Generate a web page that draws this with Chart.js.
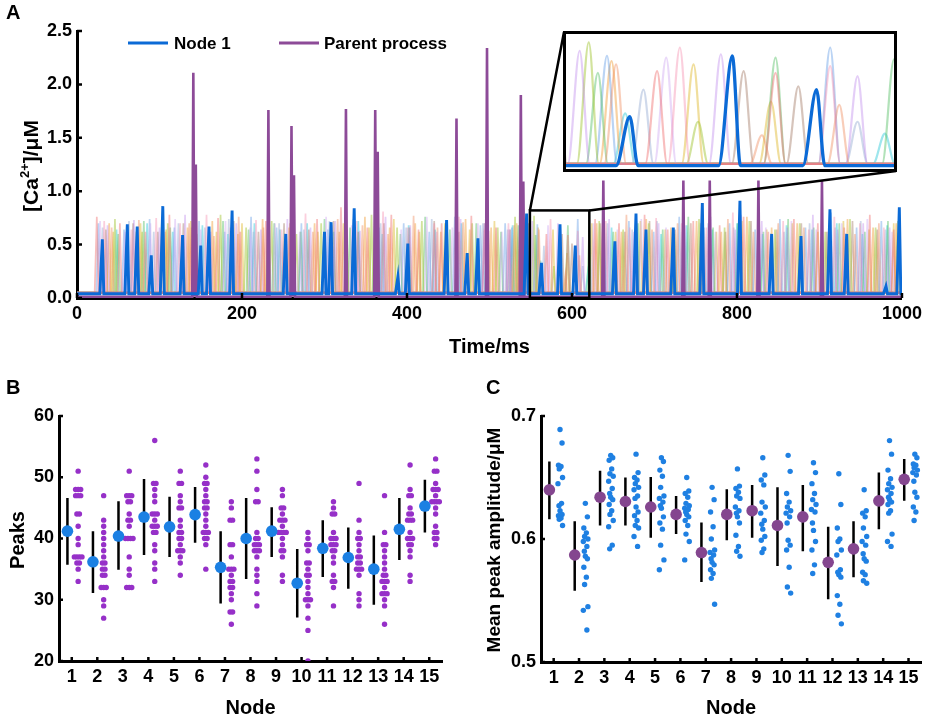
<!DOCTYPE html>
<html>
<head>
<meta charset="utf-8">
<script src="https://cdn.jsdelivr.net/npm/chart.js@4.4.1/dist/chart.umd.min.js"></script>
<style>
  body { margin: 0; background: #fff; width: 927px; height: 720px; position: relative; overflow: hidden; }
  canvas { position: absolute; }
  #cA { left: 0; top: 0; }
  #cB { left: 0; top: 360px; }
  #cC { left: 470px; top: 360px; }
  #insetBox { position: absolute; left: 563px; top: 31px; width: 334px; height: 141px; box-sizing: border-box;
              border: 3px solid #000; background: #fff; z-index: 2; }
  #insetBox canvas { left: 0; top: 0; }
</style>
</head>
<body>
<canvas id="cA" width="927" height="360"></canvas>
<div id="insetBox"><canvas id="cIn" width="328" height="135"></canvas></div>
<canvas id="cB" width="470" height="360"></canvas>
<canvas id="cC" width="457" height="360"></canvas>
<script>
// ---------- panel A : traces (peak time in ms, peak [Ca2+] in uM) ----------
const timeTicks = [0, 200, 400, 600, 800, 1000];
const caTicks = [0, 0.5, 1.0, 1.5, 2.0, 2.5];

const node1Peaks = [[30.7,0.55],[61,0.69],[73,0.67],[90,0.40],[104,0.86],[128,0.59],[150,0.49],[160,0.67],
  [188,0.82],[253,0.60],[300,0.62],[308,0.71],[336,0.84],[389,0.20],[401,0.51],[448,0.73],[473,0.42],
  [486,0.56],[545,0.79],[563,0.33],[585.5,0.69],[604,0.49],[652,0.53],[677.6,0.79],[689.7,0.64],
  [722.8,0.66],[758,0.89],[803.6,0.91],[842,0.60],[877.6,0.58],[912.7,0.83],[933,0.60],[980.6,0.11],[996.8,0.85]];

const parentPeaks = [[141,2.11],[144,1.25],[232,1.76],[260,1.61],[263,1.15],[326,1.77],[361.5,1.76],[364.5,1.37],
  [460,1.68],[497,2.34],[538,1.90],[541,1.09],[638,1.10],[735,1.10],[767,1.10],[826,1.10],[903,1.10]];

// other nodes (faint traces)
const pinkPeaks = [[24,0.76],[52,0.70],[83,0.62],[112,0.78],[139,0.66],[171,0.75],[198,0.62],[229,0.72],[262,0.68],
  [291,0.74],[320,0.85],[352,0.66],[381,0.78],[414,0.64],[442,0.70],[478,0.77],[508,0.66],[537,0.72],[569,0.60],
  [595,0.59],[628,0.74],[657,0.70],[688,0.78],[716,0.64],[747,0.72],[779,0.68],[808,0.76],[838,0.62],[869,0.74],
  [898,0.70],[930,0.66],[961,0.78],[990,0.64]];
const rosePeaks = [[33,0.72],[66,0.64],[96,0.75],[125,0.70],[157,0.78],[186,0.66],[217,0.73],[248,0.64],[277,0.79],
  [309,0.68],[339,0.72],[371,0.81],[401,0.66],[433,0.70],[463,0.76],[494,0.64],[523,0.70],[545,0.72],[574,0.74],
  [607,0.63],[641,0.72],[670,0.66],[702,0.75],[733,0.70],[763,0.66],[795,0.80],[826,0.68],[856,0.72],[887,0.64],
  [918,0.76],[949,0.70],[978,0.66]];
const coralPeaks = [[42,0.66],[75,0.73],[107,0.62],[136,0.70],[166,0.58],[196,0.76],[226,0.66],[258,0.70],[286,0.62],
  [316,0.74],[346,0.68],[377,0.60],[408,0.77],[437,0.66],[468,0.71],[499,0.63],[530,0.68],[560,0.64],[592,0.22],
  [609,0.40],[637,0.70],[666,0.78],[697,0.64],[728,0.70],[759,0.66],[789,0.74],[820,0.62],[850,0.70],[881,0.66],
  [912,0.73],[943,0.60],[972,0.70]];
const lavenderPeaks = [[37,0.68],[69,0.73],[100,0.66],[131,0.78],[162,0.62],[193,0.70],[223,0.64],[255,0.74],[283,0.66],
  [313,0.72],[343,0.63],[374,0.76],[404,0.68],[436,0.62],[465,0.74],[494,0.70],[524,0.64],[552,0.72],[583,0.70],
  [613,0.57],[645,0.74],[675,0.62],[705,0.70],[737,0.68],[768,0.76],[798,0.64],[830,0.72],[861,0.66],[892,0.78],
  [922,0.64],[953,0.70],[985,0.66]];
const lilacPeaks = [[28,0.72],[58,0.62],[89,0.70],[119,0.74],[150,0.64],[180,0.72],[210,0.66],[240,0.70],[270,0.62],
  [302,0.76],[333,0.68],[362,0.72],[393,0.64],[424,0.76],[455,0.66],[486,0.70],[515,0.62],[541,0.74],[571,0.68],
  [626,0.70],[655,0.64],[684,0.74],[714,0.66],[744,0.70],[774,0.62],[805,0.78],[835,0.66],[866,0.72],[896,0.64],
  [927,0.70],[958,0.74],[988,0.62]];
const olivePeaks = [[46,0.74],[79,0.62],[110,0.70],[142,0.64],[174,0.78],[205,0.66],[236,0.72],[266,0.60],[296,0.70],
  [327,0.64],[357,0.78],[388,0.66],[418,0.72],[448,0.62],[479,0.70],[510,0.66],[531,0.76],[554,0.77],[578,0.30],
  [633,0.72],[662,0.64],[693,0.70],[724,0.60],[754,0.74],[785,0.66],[815,0.72],[846,0.64],[876,0.70],[907,0.62],
  [937,0.74],[968,0.66],[995,0.72]];
const greenPeaks = [[50,0.60],[81,0.72],[113,0.66],[145,0.60],[177,0.72],[208,0.64],[239,0.70],[271,0.62],[300,0.74],
  [331,0.66],[361,0.70],[392,0.60],[422,0.76],[452,0.64],[484,0.70],[514,0.62],[535,0.68],[556,0.59],[595,0.68],
  [621,0.67],[650,0.62],[680,0.70],[710,0.64],[741,0.76],[771,0.66],[801,0.70],[832,0.62],[862,0.74],[893,0.66],
  [924,0.70],[955,0.62],[983,0.72]];
const skyPeaks = [[26,0.70],[57,0.64],[88,0.74],[118,0.66],[148,0.72],[179,0.62],[211,0.76],[242,0.66],[272,0.70],
  [304,0.64],[335,0.74],[366,0.66],[396,0.70],[427,0.62],[458,0.76],[489,0.68],[519,0.70],[527,0.66],[558,0.69],
  [607,0.74],[639,0.66],[669,0.72],[699,0.62],[730,0.76],[760,0.66],[791,0.70],[822,0.64],[852,0.74],[883,0.66],
  [914,0.80],[945,0.66],[975,0.72]];
const steelPeaks = [[31,0.66],[63,0.72],[93,0.62],[123,0.70],[155,0.66],[184,0.74],[214,0.62],[245,0.70],[275,0.64],
  [306,0.72],[337,0.62],[368,0.70],[399,0.66],[430,0.74],[461,0.62],[492,0.70],[522,0.64],[540,0.70],[566,0.49],
  [613,0.30],[643,0.70],[673,0.64],[703,0.72],[734,0.62],[765,0.70],[796,0.66],[826,0.74],[857,0.62],[888,0.70],
  [919,0.66],[950,0.72],[980,0.64]];
const orangePeaks = [[39,0.70],[72,0.62],[103,0.74],[134,0.66],[164,0.72],[195,0.60],[225,0.74],[257,0.66],[288,0.70],
  [318,0.62],[349,0.76],[379,0.66],[410,0.70],[441,0.62],[471,0.74],[502,0.66],[533,0.70],[559,0.66],[630,0.70],
  [660,0.62],[690,0.74],[720,0.66],[751,0.72],[781,0.62],[812,0.76],[842,0.66],[873,0.70],[903,0.62],[934,0.74],
  [965,0.66],[993,0.70]];
const yellowPeaks = [[44,0.62],[77,0.70],[108,0.64],[138,0.72],[169,0.62],[200,0.70],[231,0.64],[261,0.72],[292,0.62],
  [323,0.70],[354,0.66],[384,0.74],[415,0.62],[446,0.70],[476,0.64],[506,0.72],[537,0.62],[577,0.64],[594,0.42],
  [624,0.70],[653,0.62],[683,0.72],[713,0.64],[744,0.70],[775,0.62],[806,0.72],[836,0.64],[867,0.70],[898,0.62],
  [929,0.72],[960,0.64],[990,0.70]];
const tanPeaks = [[35,0.64],[68,0.70],[98,0.62],[129,0.70],[160,0.66],[190,0.72],[220,0.62],[251,0.70],[281,0.64],
  [311,0.72],[341,0.62],[372,0.70],[403,0.66],[433,0.72],[463,0.62],[494,0.70],[525,0.64],[547,0.70],[588,0.60],
  [600,0.51],[634,0.70],[664,0.62],[694,0.72],[725,0.64],[756,0.70],[786,0.62],[817,0.72],[848,0.64],[878,0.70],
  [909,0.62],[940,0.72],[970,0.64]];
const cyanPeaks = [[48,0.64],[85,0.70],[116,0.62],[152,0.68],[183,0.60],[215,0.70],[246,0.64],[279,0.70],[311,0.62],
  [341,0.72],[370,0.60],[402,0.68],[434,0.64],[466,0.70],[497,0.60],[528,0.68],[562,0.35],[619,0.23],[648,0.66],
  [678,0.72],[708,0.60],[739,0.68],[770,0.64],[800,0.70],[831,0.60],[860,0.68],[891,0.64],[921,0.70],[952,0.60],
  [982,0.68]];

// zoomed window shown in the inset: ms from/to and top value
const zoomFrom = 549, zoomTo = 621, zoomTop = 0.82;

// ---------- panel B : number of peaks per trial ----------
const nodes = [1,2,3,4,5,6,7,8,9,10,11,12,13,14,15];
const peakTicks = [20, 30, 40, 50, 60];
const peakMeans = [41.2,36.2,40.4,43.5,41.9,43.9,35.3,40.0,41.2,32.7,38.4,36.9,35.0,41.5,45.3];
const peakLow   = [35.7,31.1,34.9,37.3,37.0,39.3,29.4,33.4,37.0,27.1,33.7,31.8,29.2,36.5,41.0];
const peakHigh  = [46.6,41.2,46.1,49.7,46.8,48.4,41.2,46.6,45.1,38.3,43.0,41.8,40.5,46.6,49.6];
const peakCounts = [
  [51,48,48,48,47,47,47,44,44,42,40,39,37,37,37,37,36,36,35,33],
  [47,43,42,41,40,39,38,37,36,36,35,35,34,34,32,32,32,30,29,27],
  [51,47,47,47,46,46,44,43,43,42,40,40,40,40,37,35,34,32,32,32],
  [56,49,49,48,47,46,44,44,44,43,42,42,42,41,41,39,38,36,35,33],
  [51,49,49,47,46,45,45,43,42,41,41,40,40,39,38,38,38,37,36,34],
  [52,50,49,49,48,47,46,46,45,45,44,43,42,41,41,41,40,40,39,35],
  [46,45,43,43,39,39,37,35,35,35,34,33,33,32,32,31,30,28,28,26],
  [53,51,48,46,46,41,40,40,39,39,39,38,38,38,37,35,34,33,31,29],
  [48,47,45,45,44,43,43,43,42,41,41,41,41,40,39,38,38,37,34,33],
  [41,40,39,39,38,36,36,35,34,34,33,32,31,30,30,30,29,27,25,20],
  [46,45,44,44,41,40,40,40,39,39,39,38,38,37,36,34,33,33,32,29],
  [49,43,41,40,40,39,38,37,37,36,36,35,35,35,34,31,30,29],
  [47,41,39,39,38,37,36,35,34,34,33,33,33,32,31,31,31,30,29,26],
  [52,48,47,47,45,44,44,43,43,43,41,40,40,40,39,39,38,37,34,33],
  [53,51,51,49,48,48,48,47,46,46,46,46,45,44,42,41,41,40,40,39]
];

// ---------- panel C : mean peak amplitude per trial ----------
const ampTicks = [0.5, 0.6, 0.7];
const ampMeans = [0.640,0.587,0.634,0.6305,0.626,0.620,0.589,0.620,0.623,0.611,0.618,0.581,0.592,0.631,0.6485];
const ampLow   = [0.616,0.558,0.611,0.611,0.601,0.604,0.565,0.599,0.601,0.578,0.590,0.551,0.569,0.608,0.631];
const ampHigh  = [0.663,0.6145,0.6555,0.650,0.6505,0.635,0.6135,0.6405,0.644,0.642,0.644,0.610,0.6145,0.654,0.665];
const ampTrials = [
  [0.689,0.678,0.660,0.659,0.657,0.650,0.645,0.629,0.627,0.623,0.620,0.619,0.617,0.616,0.611],
  [0.629,0.618,0.609,0.605,0.602,0.600,0.598,0.594,0.590,0.586,0.584,0.577,0.569,0.563,0.545,0.542,0.526],
  [0.668,0.666,0.664,0.657,0.653,0.651,0.647,0.641,0.637,0.634,0.632,0.628,0.623,0.620,0.615,0.610,0.595,0.592],
  [0.669,0.654,0.650,0.648,0.645,0.642,0.640,0.635,0.633,0.626,0.622,0.619,0.615,0.611,0.609,0.602,0.594],
  [0.666,0.663,0.656,0.651,0.642,0.635,0.633,0.630,0.627,0.625,0.618,0.613,0.608,0.595,0.583,0.575],
  [0.650,0.639,0.637,0.634,0.629,0.627,0.625,0.624,0.622,0.620,0.618,0.615,0.611,0.604,0.598,0.583],
  [0.642,0.632,0.622,0.610,0.600,0.591,0.589,0.587,0.584,0.581,0.579,0.575,0.572,0.568,0.547],
  [0.657,0.643,0.641,0.638,0.635,0.633,0.626,0.623,0.621,0.618,0.613,0.603,0.594,0.590,0.586],
  [0.666,0.652,0.648,0.644,0.630,0.626,0.621,0.615,0.612,0.608,0.602,0.599,0.592,0.589],
  [0.668,0.655,0.637,0.630,0.626,0.623,0.621,0.618,0.613,0.599,0.595,0.591,0.577,0.561,0.556],
  [0.662,0.654,0.645,0.637,0.632,0.628,0.624,0.622,0.613,0.607,0.598,0.591,0.579,0.572],
  [0.653,0.628,0.609,0.600,0.598,0.591,0.587,0.575,0.573,0.571,0.569,0.554,0.547,0.538,0.531],
  [0.640,0.623,0.621,0.618,0.609,0.602,0.598,0.595,0.588,0.584,0.582,0.573,0.571,0.566,0.564],
  [0.680,0.669,0.656,0.649,0.645,0.642,0.640,0.637,0.634,0.632,0.630,0.628,0.623,0.621,0.604,0.598,0.594],
  [0.669,0.666,0.661,0.660,0.658,0.656,0.654,0.652,0.647,0.638,0.634,0.626,0.622,0.615]
];

// ------------------------------------------------------------------
const FONT = "'Liberation Sans', Arial, sans-serif";
Chart.defaults.font.family = FONT;
Chart.defaults.color = '#000';
Chart.defaults.animation = false;

const BLUE = '#0b6ad6';
const PURPLE = '#8d4b98';

const faint = [
  [pinkPeaks, 'rgba(240,110,110,0.45)'],
  [rosePeaks, 'rgba(245,130,165,0.38)'],
  [coralPeaks, 'rgba(240,145,100,0.45)'],
  [lavenderPeaks, 'rgba(185,125,235,0.38)'],
  [lilacPeaks, 'rgba(205,165,240,0.42)'],
  [olivePeaks, 'rgba(165,200,60,0.5)'],
  [greenPeaks, 'rgba(85,190,100,0.45)'],
  [skyPeaks, 'rgba(105,160,230,0.45)'],
  [steelPeaks, 'rgba(160,180,215,0.5)'],
  [orangePeaks, 'rgba(240,160,60,0.47)'],
  [yellowPeaks, 'rgba(225,190,60,0.5)'],
  [tanPeaks, 'rgba(165,125,105,0.45)'],
  [cyanPeaks, 'rgba(40,200,215,0.45)']
];

// spike shaped trace through the read peaks
function spikes(peaks, base, rise, fall) {
  let pts = [{x: 0, y: base}];
  peaks.forEach(p => {
    pts.push({x: p[0] - rise, y: base});
    pts.push({x: p[0], y: p[1]});
    pts.push({x: p[0] + fall, y: base});
  });
  pts.push({x: 1000, y: base});
  return pts;
}

function traceSets(wFaint, wMain, withParent) {
  let sets = [];
  faint.forEach(f => {
    sets.push({data: spikes(f[0], 0.05, 2.6, 2.2), borderColor: f[1], borderWidth: wFaint, order: 2});
  });
  if (withParent) {
    sets.push({data: spikes(parentPeaks, 0.012, 1.3, 1.3), borderColor: PURPLE, borderWidth: wMain, order: 1});
  }
  sets.push({data: spikes(node1Peaks, 0.04, 3, 1.8), borderColor: BLUE, borderWidth: wMain + 0.3, order: 0});
  return sets;
}

function setTicks(list) {
  return s => { s.ticks = list.map(v => ({value: v})); };
}

function axisStyle(extra) {
  return Object.assign({
    grid: {display: false, drawTicks: false},
    border: {color: '#000', width: 3},
    ticks: {color: '#000', font: {size: 18, weight: 'bold'}, autoSkip: false, maxRotation: 0, padding: 5}
  }, extra);
}

function innerTicks(chart, len) {
  const ctx = chart.ctx, a = chart.chartArea;
  const xs = chart.scales.x, ys = chart.scales.y;
  ctx.save();
  ctx.strokeStyle = '#000';
  ctx.lineWidth = 2.5;
  ctx.beginPath();
  xs.ticks.forEach(t => {
    const px = xs.getPixelForValue(t.value);
    ctx.moveTo(px, a.bottom); ctx.lineTo(px, a.bottom - len);
  });
  ys.ticks.forEach(t => {
    const py = ys.getPixelForValue(t.value);
    ctx.moveTo(a.left, py); ctx.lineTo(a.left + len, py);
  });
  ctx.stroke();
  ctx.restore();
}

function text(ctx, str, x, y, size, rot, align) {
  ctx.save();
  ctx.translate(x, y);
  if (rot) ctx.rotate(-Math.PI / 2);
  ctx.font = 'bold ' + size + 'px ' + FONT;
  ctx.fillStyle = '#000';
  ctx.textAlign = align || 'center';
  ctx.textBaseline = 'middle';
  ctx.fillText(str, 0, 0);
  ctx.restore();
}

// ---------- chart A ----------
const decorA = {
  id: 'decorA',
  afterDraw(chart) {
    const ctx = chart.ctx, a = chart.chartArea;
    const xs = chart.scales.x, ys = chart.scales.y;
    innerTicks(chart, 5);
    text(ctx, 'A', 6, 13, 20, false, 'left');
    text(ctx, 'Time/ms', (a.left + a.right) / 2, 347, 20);

    // y title with superscript
    ctx.save();
    ctx.translate(32, 166);
    ctx.rotate(-Math.PI / 2);
    ctx.fillStyle = '#000';
    ctx.textBaseline = 'middle';
    const big = 'bold 21px ' + FONT, small = 'bold 13px ' + FONT;
    ctx.font = big; const w1 = ctx.measureText('[Ca').width; const w3 = ctx.measureText(']/\u03bcM').width;
    ctx.font = small; const w2 = ctx.measureText('2+').width;
    let x0 = -(w1 + w2 + w3) / 2;
    ctx.font = big; ctx.fillText('[Ca', x0, 0);
    ctx.font = small; ctx.fillText('2+', x0 + w1, -7);
    ctx.font = big; ctx.fillText(']/\u03bcM', x0 + w1 + w2, 0);
    ctx.restore();

    // legend
    ctx.save();
    ctx.lineWidth = 3;
    ctx.strokeStyle = BLUE;
    ctx.beginPath(); ctx.moveTo(128, 43); ctx.lineTo(168, 43); ctx.stroke();
    ctx.strokeStyle = PURPLE;
    ctx.beginPath(); ctx.moveTo(279, 43); ctx.lineTo(319, 43); ctx.stroke();
    ctx.restore();
    text(ctx, 'Node 1', 174, 44, 17, false, 'left');
    text(ctx, 'Parent process', 324, 44, 17, false, 'left');

    // zoom box and connectors to the inset
    const bx1 = xs.getPixelForValue(zoomFrom), bx2 = xs.getPixelForValue(zoomTo);
    const by1 = ys.getPixelForValue(zoomTop), by2 = a.bottom;
    ctx.save();
    ctx.strokeStyle = '#000';
    ctx.lineWidth = 2.5;
    ctx.strokeRect(bx1, by1, bx2 - bx1, by2 - by1);
    ctx.beginPath();
    ctx.moveTo(bx1, by1); ctx.lineTo(564, 32);
    ctx.moveTo(bx2, by1); ctx.lineTo(896, 171);
    ctx.stroke();
    ctx.restore();
  }
};

new Chart(document.getElementById('cA'), {
  type: 'line',
  data: {datasets: traceSets(1.7, 2.6, true)},
  options: {
    responsive: false,
    layout: {padding: {top: 31, right: 25, left: 0, bottom: 0}},
    elements: {point: {radius: 0}, line: {tension: 0}},
    plugins: {legend: {display: false}, tooltip: {enabled: false}},
    scales: {
      x: axisStyle({type: 'linear', min: 0, max: 1000, afterBuildTicks: setTicks(timeTicks),
        afterFit: s => { s.height = 62; },
        ticks: {color: '#000', font: {size: 18, weight: 'bold'}, padding: 5, maxRotation: 0, callback: v => String(v)}}),
      y: axisStyle({min: 0, max: 2.5, afterBuildTicks: setTicks(caTicks),
        afterFit: s => { s.width = 77; },
        ticks: {color: '#000', font: {size: 18, weight: 'bold'}, padding: 5, callback: v => v.toFixed(1)}})
    }
  },
  plugins: [decorA]
});

// ---------- inset ----------
const insetSets = traceSets(2.2, 3, false);
insetSets.forEach(d => { d.cubicInterpolationMode = 'monotone'; });
new Chart(document.getElementById('cIn'), {
  type: 'line',
  data: {datasets: insetSets},
  options: {
    responsive: false,
    layout: {padding: 0},
    elements: {point: {radius: 0}},
    plugins: {legend: {display: false}, tooltip: {enabled: false}},
    scales: {
      x: {type: 'linear', min: zoomFrom, max: zoomTo, display: false},
      y: {min: 0.02, max: zoomTop, display: false}
    }
  }
});

// ---------- charts B and C ----------
function errorBars(means, low, high, shift) {
  return {
    id: 'errorBars',
    beforeDatasetsDraw(chart) {
      const ctx = chart.ctx, xs = chart.scales.x, ys = chart.scales.y;
      ctx.save();
      ctx.strokeStyle = '#000';
      ctx.lineWidth = 2.5;
      ctx.beginPath();
      nodes.forEach((n, i) => {
        const px = xs.getPixelForValue(n + shift);
        ctx.moveTo(px, ys.getPixelForValue(low[i]));
        ctx.lineTo(px, ys.getPixelForValue(high[i]));
      });
      ctx.stroke();
      ctx.restore();
    }
  };
}

function decor(letter, lx, yTitle, ytx, titleSize) {
  return {
    id: 'decor' + letter,
    afterDraw(chart) {
      const ctx = chart.ctx, a = chart.chartArea;
      innerTicks(chart, 4);
      text(ctx, letter, lx, 28, 20, false, 'left');
      text(ctx, 'Node', (a.left + a.right) / 2, 348, 20);
      text(ctx, yTitle, ytx, 180, titleSize, true);
    }
  };
}

// B: equal counts sit side by side
let peakDots = [];
peakCounts.forEach((list, i) => {
  let seen = {};
  list.forEach(v => {
    const m = list.filter(u => u === v).length;
    const k = seen[v] || 0;
    seen[v] = k + 1;
    peakDots.push({x: nodes[i] + 0.25 + (k - (m - 1) / 2) * 0.1, y: v});
  });
});

new Chart(document.getElementById('cB'), {
  type: 'scatter',
  data: {datasets: [
    {data: nodes.map((n, i) => ({x: n - 0.17, y: peakMeans[i]})), backgroundColor: '#1b80e3', borderWidth: 0, pointRadius: 5.8, order: 0},
    {data: peakDots, backgroundColor: '#9630c8', borderWidth: 0, pointRadius: 2.7, order: 1}
  ]},
  options: {
    responsive: false,
    layout: {padding: {top: 56, right: 28, left: 0, bottom: 0}},
    plugins: {legend: {display: false}, tooltip: {enabled: false}},
    scales: {
      x: axisStyle({type: 'linear', min: 0.5, max: 15.5, afterBuildTicks: setTicks(nodes),
        afterFit: s => { s.height = 59; }}),
      y: axisStyle({min: 20, max: 60, afterBuildTicks: setTicks(peakTicks),
        afterFit: s => { s.width = 59; }})
    }
  },
  plugins: [errorBars(peakMeans, peakLow, peakHigh, -0.17), decor('B', 6, 'Peaks', 18, 20)]
});

// C: trials jittered sideways
const jit = [0, 0.08, -0.06, 0.04, -0.03, 0.1, -0.08, 0.06, -0.04];
let ampDots = [];
ampTrials.forEach((list, i) => {
  list.forEach((v, j) => { ampDots.push({x: nodes[i] + 0.25 + jit[j % jit.length], y: v}); });
});

new Chart(document.getElementById('cC'), {
  type: 'scatter',
  data: {datasets: [
    {data: nodes.map((n, i) => ({x: n - 0.17, y: ampMeans[i]})), backgroundColor: '#84468f', borderWidth: 0, pointRadius: 5.8, order: 0},
    {data: ampDots, backgroundColor: '#1f80e2', borderWidth: 0, pointRadius: 2.7, order: 1}
  ]},
  options: {
    responsive: false,
    layout: {padding: {top: 56, right: 4, left: 0, bottom: 0}},
    plugins: {legend: {display: false}, tooltip: {enabled: false}},
    scales: {
      x: axisStyle({type: 'linear', min: 0.5, max: 15.5, afterBuildTicks: setTicks(nodes),
        afterFit: s => { s.height = 58; }}),
      y: axisStyle({min: 0.5, max: 0.7, afterBuildTicks: setTicks(ampTicks),
        afterFit: s => { s.width = 71; },
        ticks: {color: '#000', font: {size: 18, weight: 'bold'}, padding: 5, callback: v => v.toFixed(1)}})
    }
  },
  plugins: [errorBars(ampMeans, ampLow, ampHigh, -0.17), decor('C', 16, 'Mean peak amplitude/\u03bcM', 25, 19)]
});
</script>
</body>
</html>
